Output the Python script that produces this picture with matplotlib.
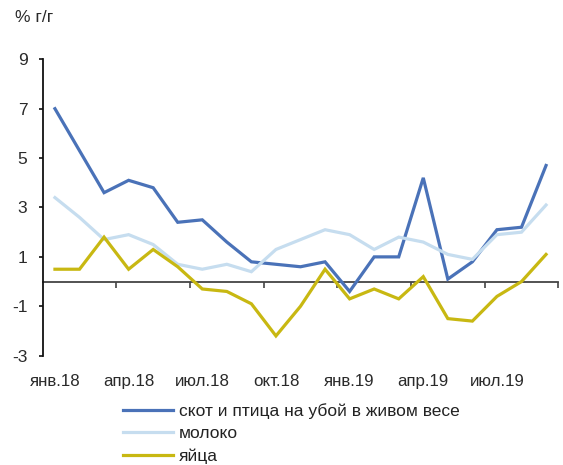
import numpy as np
import matplotlib
matplotlib.use("Agg")
import matplotlib.pyplot as plt

# --------------------------------------------------
# DATA
# --------------------------------------------------

months = ["янв.18", "фев.18", "мар.18", "апр.18", "май.18", "июн.18", "июл.18",
          "авг.18", "сен.18", "окт.18", "ноя.18", "дек.18", "янв.19", "фев.19",
          "мар.19", "апр.19", "май.19", "июн.19", "июл.19", "авг.19", "сен.19"]

livestock = [7.0, 5.3, 3.6, 4.1, 3.8, 2.4, 2.5, 1.6, 0.8, 0.7, 0.6, 0.8, -0.4,
             1.0, 1.0, 4.2, 0.1, 0.8, 2.1, 2.2, 4.7]
milk = [3.4, 2.6, 1.7, 1.9, 1.5, 0.7, 0.5, 0.7, 0.4, 1.3, 1.7, 2.1, 1.9, 1.3,
        1.8, 1.6, 1.1, 0.9, 1.9, 2.0, 3.1]
eggs = [0.5, 0.5, 1.8, 0.5, 1.3, 0.6, -0.3, -0.4, -0.9, -2.2, -1.0, 0.5, -0.7,
        -0.3, -0.7, 0.2, -1.5, -1.6, -0.6, 0.0, 1.1]

series_names = ["скот и птица на убой в живом весе", "молоко", "яйца"]
colors = ["#4a72b8", "#c6ddef", "#c8b812"]

y_ticks = [-3, -1, 1, 3, 5, 7, 9]

# --------------------------------------------------
# PLOT
# --------------------------------------------------

plt.rcParams["font.family"] = ["Liberation Sans", "DejaVu Sans"]
plt.rcParams["font.size"] = 12
plt.rcParams["axes.unicode_minus"] = False

fig = plt.figure(figsize=(5.63, 4.65), dpi=100)
ax = fig.add_axes([0.0758, 0.2351, 0.9159, 0.6374])

x = np.arange(len(months))
for vals, name, c in zip([livestock, milk, eggs], series_names, colors):
    ax.plot(x, vals, color=c, lw=2.3, label=name, solid_joinstyle="miter")

ax.set_xlim(-0.5, len(months) - 0.5)
ax.set_ylim(-3, 9)

for s in ["top", "right", "bottom"]:
    ax.spines[s].set_visible(False)
ax.spines["left"].set_linewidth(1.3)
ax.spines["left"].set_color("#111111")

ax.set_yticks(y_ticks)
ax.tick_params(axis="y", direction="out", length=3, width=1.2, pad=8,
               labelcolor="#2a2a2a", labelsize=12.5, color="#111111")

# labels every 3 months, at the bottom
ax.set_xticks(x[::3])
ax.set_xticklabels(months[::3])
ax.tick_params(axis="x", length=0, pad=13, labelcolor="#2a2a2a",
               labelsize=12.2)

# category axis drawn at zero with boundary ticks
zero = ax.secondary_xaxis(0.25)
zero.set_xticks(np.arange(2.5, len(months), 3))
zero.set_xticklabels([])
zero.tick_params(direction="out", length=4, width=1.2, color="#444444")
zero.spines["bottom"].set_color("#444444")
zero.spines["bottom"].set_linewidth(1.3)

fig.text(15 / 563, 1 - 18 / 465, "% г/г", va="center", ha="left",
         color="#2a2a2a", fontsize=12.5)

fig.legend(loc="upper left", bbox_to_anchor=(123 / 563, 1 - 403 / 465),
           frameon=False, borderpad=0, borderaxespad=0, handlelength=2.9,
           handletextpad=0.3, labelspacing=0.42, fontsize=12.5,
           labelcolor="#222222")

fig.savefig("out.png", dpi=100)
plt.close(fig)
